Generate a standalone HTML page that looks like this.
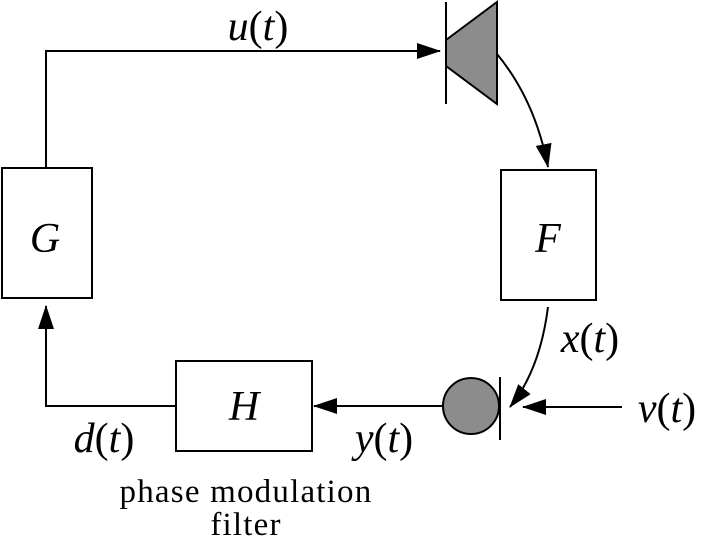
<!DOCTYPE html>
<html><head><style>body{margin:0;background:#fff}svg{display:block}</style></head><body>
<svg width="702" height="542" viewBox="0 0 702 542" xmlns="http://www.w3.org/2000/svg">
<defs>
<marker id="b" markerWidth="24" markerHeight="16" refX="23" refY="8" orient="auto" markerUnits="userSpaceOnUse"><path d="M0,0 L24,8 L0,16z" fill="#000"/></marker></defs>
<g stroke="#000" stroke-width="2" fill="none">
<rect x="2" y="168" width="90" height="130" fill="#fff"/>
<rect x="501" y="170" width="95" height="130" fill="#fff"/>
<rect x="176" y="361" width="136" height="90" fill="#fff"/>
<polyline points="46,168 46,51 440,51" marker-end="url(#b)"/>
<line x1="446" y1="2" x2="446" y2="104"/>
<polygon points="446,40 497,2 497,104 446,66" fill="#8c8c8c"/>
<path d="M497,54 Q535,100 548,167" marker-end="url(#b)"/>
<path d="M548,307 Q540,370 510,407" marker-end="url(#b)"/>
<line x1="622" y1="407" x2="523" y2="407" marker-end="url(#b)"/>
<circle cx="471" cy="406" r="28" fill="#8c8c8c"/>
<line x1="500" y1="377" x2="500" y2="440"/>
<line x1="443" y1="406" x2="314" y2="406" marker-end="url(#b)"/>
<polyline points="176,406 46,406 46,306" marker-end="url(#b)"/>
</g>
<g font-family="Liberation Serif, serif" font-size="42" text-anchor="middle">
<text x="258" y="40"><tspan font-style="italic">u</tspan>(<tspan font-style="italic">t</tspan>)</text>
<text x="45" y="252" font-style="italic">G</text>
<text x="548" y="252" font-style="italic">F</text>
<text x="244" y="420" font-style="italic">H</text>
<text x="590" y="352"><tspan font-style="italic">x</tspan>(<tspan font-style="italic">t</tspan>)</text>
<text x="667" y="422"><tspan font-style="italic">v</tspan>(<tspan font-style="italic">t</tspan>)</text>
<text x="384" y="452"><tspan font-style="italic">y</tspan>(<tspan font-style="italic">t</tspan>)</text>
<text x="104" y="452"><tspan font-style="italic">d</tspan>(<tspan font-style="italic">t</tspan>)</text>
</g>
<g font-family="Liberation Serif, serif" font-size="33" text-anchor="middle" letter-spacing="1.2">
<text x="246" y="502">phase modulation</text>
<text x="246" y="535">filter</text>
</g>
</svg>
</body></html>
